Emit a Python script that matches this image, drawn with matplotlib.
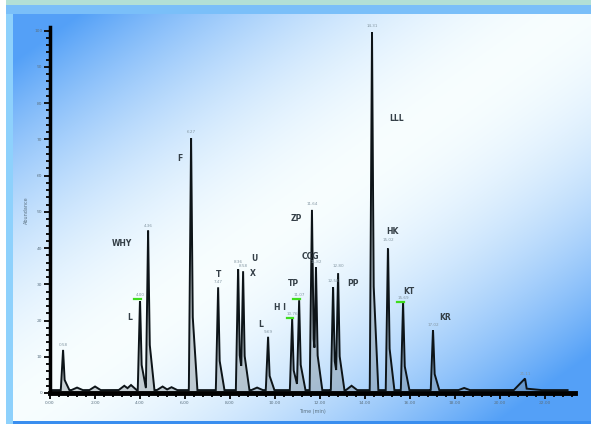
import matplotlib.pyplot as plt
import numpy as np
from matplotlib.ticker import MultipleLocator

# retention time (min), apex height (% of largest peak), peak label
peak_times = [0.58, 4.00, 4.36, 6.27, 7.47, 8.36, 8.58, 9.69, 10.76, 11.07,
              11.64, 11.82, 12.58, 12.80, 14.31, 15.02, 15.69, 17.02, 21.11]
peak_heights = [12.0, 26.0, 45.0, 71.0, 29.5, 35.0, 34.0, 15.7, 20.7, 26.0,
                51.0, 35.0, 29.7, 34.0, 100.0, 41.0, 25.0, 17.6, 4.0]
peak_names = ["", "L", "WHY", "F", "T", "U", "X", "L", "H I", "TP",
              "ZP", "CCG", "", "PP", "LLL", "HK", "KT", "KR", ""]

# where each peak name is written (time, intensity)
label_times = [None, 3.56, 3.20, 5.78, 7.47, 9.07, 9.02, 9.38, 10.20, 10.80,
               10.93, 11.55, None, 13.47, 15.42, 15.20, 15.96, 17.56, None]
label_values = [None, 20.7, 41.3, 64.7, 32.8, 37.2, 33.0, 19.0, 23.7, 30.3,
                48.2, 37.6, None, 30.3, 75.8, 44.6, 28.1, 20.9, None]

# small baseline humps
bump_times = [1.2, 2.0, 3.3, 3.6, 5.0, 5.4, 9.2, 13.4, 18.4]
bump_heights = [1.5, 1.8, 2.0, 2.2, 1.8, 1.6, 1.5, 2.0, 1.4]

# peaks flagged with an integration marker
marked_peaks = [1, 8, 9, 16]

x_major = 2
x_minor = 0.4
x_max = 23.33


def background(fig):
	# diagonal blue -> white -> blue wash behind the chart
	bg = fig.add_axes([0, 0, 1, 1], zorder=-10)
	h, w = 424, 591
	yy, xx = np.mgrid[0:h, 0:w]
	d = np.abs(xx / w + yy / h - 1.0)
	d = np.clip(d * 1.2, 0, 1) ** 1.8
	white = np.array([0.97, 0.995, 1.0])
	blue = np.array([0.33, 0.63, 0.97])
	img = white[None, None, :] * (1 - d[..., None]) + blue[None, None, :] * d[..., None]
	img[:, :6] = 1.0
	img[:, 6:13] = [0.56, 0.82, 0.99]
	img[5:14, 6:] = [0.48, 0.75, 0.98]
	img[0:5, 6:] = [0.70, 0.88, 0.84]
	img[421:, 13:] = [0.23, 0.56, 0.94]
	bg.imshow(img, aspect="auto", extent=[0, 1, 0, 1], interpolation="bilinear")
	bg.axis("off")


def main():
	fig = plt.figure(figsize=(5.91, 4.24), dpi=100)
	background(fig)

	ax = fig.add_axes([50 / 591, 1 - 393 / 424, 525 / 591, 366 / 424])
	ax.set_facecolor("none")

	t = np.linspace(0, 23.0, 4000)
	trace = np.full_like(t, 0.8)
	for bt, bh in zip(bump_times, bump_heights):
		trace = np.maximum(trace, np.interp(t, [bt - 0.25, bt, bt + 0.25], [0.8, bh, 0.8]))
	for pt, ph in zip(peak_times, peak_heights):
		lw_ = 0.10 if ph > 5 else 0.5
		rw_ = 0.28 if ph > 5 else 0.7
		shape = np.interp(t, [pt - lw_, pt, pt + 0.07, pt + rw_],
		                  [0.8, ph, ph * 0.3, 0.8])
		trace = np.maximum(trace, shape)

	ax.fill_between(t, 0, trace, color="#6f7a80", alpha=0.35, lw=0)
	ax.plot(t, trace, color="#0d1418", lw=1.4, solid_joinstyle="miter")

	for i, (pt, ph) in enumerate(zip(peak_times, peak_heights)):
		ax.text(pt, ph + 0.6, "%.2f" % pt, fontsize=3, color="#8497a3",
		        ha="center", va="bottom")
		if peak_names[i]:
			ax.text(label_times[i], label_values[i], peak_names[i], fontsize=5.5,
			        color="#343f47", ha="center", va="center", fontweight="semibold")
	for i in marked_peaks:
		ax.plot([peak_times[i] - 0.25, peak_times[i] + 0.05],
		        [peak_heights[i], peak_heights[i]], color="#3fdc1e", lw=1.6)

	ax.set_xlim(0, x_max)
	ax.set_ylim(0, 101)
	ax.xaxis.set_major_locator(MultipleLocator(x_major))
	ax.xaxis.set_minor_locator(MultipleLocator(x_minor))
	ax.yaxis.set_major_locator(MultipleLocator(10))
	ax.yaxis.set_minor_locator(MultipleLocator(2))
	ax.xaxis.set_major_formatter(lambda v, p: "%.2f" % v)
	ax.yaxis.set_major_formatter(lambda v, p: "%d" % v)

	for s in ("top", "right"):
		ax.spines[s].set_visible(False)
	ax.spines["left"].set_linewidth(2.5)
	ax.spines["bottom"].set_linewidth(3.5)
	ax.tick_params(which="both", direction="out", color="#111111", width=1.4,
	               labelsize=3.2, labelcolor="#5c7282", pad=1.5)
	ax.tick_params(which="major", length=4)
	ax.tick_params(which="minor", length=3)

	ax.set_xlabel("Time (min)", fontsize=3.5, color="#5c7282", labelpad=3)
	ax.set_ylabel("Abundance", fontsize=3.5, color="#5c7282", labelpad=4)

	fig.savefig("out.png", dpi=100)


if __name__ == '__main__':
	main()
